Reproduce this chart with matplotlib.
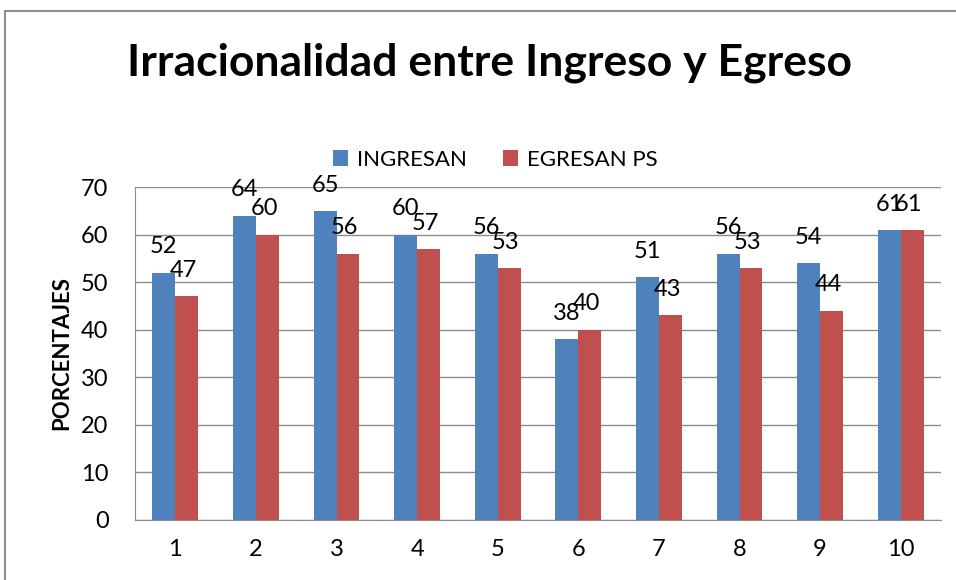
import matplotlib.pyplot as plt
import numpy as np
from matplotlib.patches import Rectangle

plt.rcParams['font.family'] = ['Lato', 'DejaVu Sans']

# datos
categorias = ['1', '2', '3', '4', '5', '6', '7', '8', '9', '10']
ingresan = [52, 64, 65, 60, 56, 38, 51, 56, 54, 61]
egresan = [47, 60, 56, 57, 53, 40, 43, 53, 44, 61]

azul = '#4F81BD'
rojo = '#C0504D'

fig = plt.figure(figsize=(9.56, 5.8), dpi=100)
ax = fig.add_axes([135/956, 1 - 520/580, (941-135)/956, (520-187)/580])

x = np.arange(len(categorias))
w = 0.285
b1 = ax.bar(x - w/2, ingresan, w, color=azul, label='INGRESAN', zorder=3)
b2 = ax.bar(x + w/2, egresan, w, color=rojo, label='EGRESAN PS', zorder=3)

# etiquetas de valor
for xi, v in zip(x, ingresan):
    ax.text(xi - w/2, v + 3.2, str(v), ha='center', va='bottom', fontsize=17, zorder=4)
for xi, v in zip(x, egresan):
    ax.text(xi + w/2 - 0.04, v + 3.2, str(v), ha='center', va='bottom', fontsize=17, zorder=4)

ax.set_xlim(-0.5, len(categorias) - 0.5)
ax.set_ylim(0, 70)
ax.set_yticks(range(0, 71, 10))
ax.set_xticks(x)
ax.set_xticklabels(categorias)
ax.tick_params(axis='both', length=0, labelsize=17)
ax.tick_params(axis='x', pad=14)
ax.tick_params(axis='y', pad=19)
ax.yaxis.grid(True, color='#8c8c8c', linewidth=1, zorder=0)
for s in ['top', 'right']:
    ax.spines[s].set_visible(False)
for s in ['left', 'bottom']:
    ax.spines[s].set_color('#8c8c8c')

ax.set_ylabel('PORCENTAJES', fontsize=16, fontweight='bold', labelpad=6)

fig.text(0.512, 1 - 63/580, 'Irracionalidad entre Ingreso y Egreso', ha='center', va='center',
         fontsize=32, fontweight='bold')
fig.legend(handles=[b1, b2], loc='center', bbox_to_anchor=(0.518, 1 - 160/580), ncol=2,
           frameon=False, fontsize=16, handlelength=0.7, handleheight=0.7, columnspacing=1.6,
           handletextpad=0.4)

# marco del grafico (cortado a la derecha y abajo)
fig.patches.append(Rectangle((5/956, -0.1), 1.2, 1.1 - 11/580, transform=fig.transFigure,
                             fill=False, edgecolor='#8c8c8c', linewidth=1.5))

fig.savefig('out.png', dpi=100)
